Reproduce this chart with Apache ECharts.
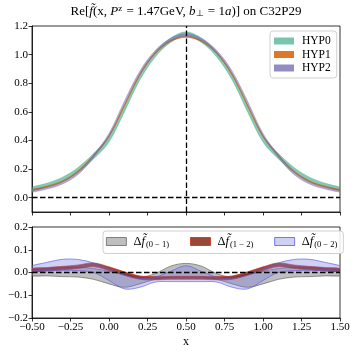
<!DOCTYPE html>
<html><head><meta charset="utf-8">
<script src="https://cdn.jsdelivr.net/npm/echarts@6/dist/echarts.min.js"></script>
<style>html,body{margin:0;padding:0;background:#fff}#c{width:357px;height:357px}</style>
</head><body><div id="c"></div>
<script>
const xs = [-0.5,-0.4,-0.3,-0.2,-0.1,0.0,0.1,0.2,0.3,0.4,0.5,0.6,0.7,0.8,0.9,1.0,1.1,1.2,1.3,1.4,1.5];
const hyp0Mean = [0.062,0.09,0.13,0.195,0.29,0.41,0.62,0.84,1.0,1.1,1.145,1.1,1.0,0.84,0.62,0.41,0.29,0.195,0.13,0.09,0.062];
const hyp0Err  = [0.012,0.013,0.015,0.018,0.02,0.022,0.022,0.02,0.018,0.016,0.015,0.016,0.018,0.02,0.022,0.022,0.02,0.018,0.015,0.013,0.012];
const hyp1Mean = [0.054,0.078,0.115,0.185,0.295,0.43,0.645,0.86,1.01,1.095,1.125,1.095,1.01,0.86,0.645,0.43,0.295,0.185,0.115,0.078,0.054];
const hyp1Err  = [0.004,0.004,0.004,0.004,0.004,0.004,0.004,0.004,0.004,0.004,0.004,0.004,0.004,0.004,0.004,0.004,0.004,0.004,0.004,0.004,0.004];
const hyp2Mean = [0.046,0.068,0.105,0.172,0.29,0.44,0.665,0.875,1.02,1.105,1.137,1.105,1.02,0.875,0.665,0.44,0.29,0.172,0.105,0.068,0.046];
const hyp2Err  = [0.008,0.008,0.009,0.01,0.01,0.011,0.011,0.011,0.01,0.01,0.01,0.01,0.01,0.011,0.011,0.011,0.01,0.01,0.009,0.008,0.008];

const d01Lo = [-0.015,-0.015,-0.018,-0.02,-0.03,-0.05,-0.065,-0.05,-0.03,-0.02,-0.02,-0.02,-0.03,-0.05,-0.065,-0.05,-0.03,-0.02,-0.018,-0.015,-0.015];
const d01Hi = [0.012,0.018,0.022,0.022,0.018,0.005,-0.008,-0.02,-0.005,0.028,0.04,0.028,-0.005,-0.02,-0.008,0.005,0.018,0.022,0.022,0.018,0.012];
const d12Lo = [0.003,0.007,0.012,0.018,0.025,0.008,-0.012,-0.03,-0.032,-0.03,-0.03,-0.03,-0.032,-0.03,-0.012,0.008,0.025,0.018,0.012,0.007,0.003];
const d12Hi = [0.018,0.022,0.027,0.033,0.042,0.025,0.003,-0.015,-0.018,-0.017,-0.017,-0.017,-0.018,-0.015,0.003,0.025,0.042,0.033,0.027,0.022,0.018];
const d02Lo = [0.005,0.008,0.01,0.008,0.0,-0.035,-0.072,-0.065,-0.042,-0.04,-0.04,-0.04,-0.042,-0.065,-0.072,-0.035,0.0,0.008,0.01,0.008,0.005];
const d02Hi = [0.03,0.045,0.058,0.057,0.042,0.015,-0.012,-0.025,-0.02,0.005,0.03,0.005,-0.02,-0.025,-0.012,0.015,0.042,0.057,0.058,0.045,0.03];

const xTicksInterval = 0.25;
const topYTicks = [0.0,0.2,0.4,0.6,0.8,1.0,1.2];
const bottomYTicks = [-0.2,-0.1,0.0,0.1,0.2];

const FONT = 'Liberation Serif';
const minus = s => s.replace('-', '\u2212');
const SM = 0.35;

function band(name, lo, hi, gi, fill, edge, ew, z) {
  return {
    name, type: 'custom', xAxisIndex: gi, yAxisIndex: gi, z, silent: true, clip: true,
    itemStyle: { color: fill },
    data: [[xs[0], lo[0]]],
    renderItem: function (params, api) {
      const loPts = xs.map((x, i) => api.coord([x, lo[i]]));
      const hiPts = xs.map((x, i) => api.coord([x, hi[i]]));
      const poly = loPts.concat(hiPts.slice().reverse());
      const cs = params.coordSys;
      return {
        type: 'group',
        clipPath: { type: 'rect', shape: { x: cs.x, y: cs.y, width: cs.width, height: cs.height } },
        children: [
          { type: 'polygon', shape: { points: poly, smooth: SM }, style: { fill: fill, stroke: null } },
          { type: 'polyline', shape: { points: loPts, smooth: SM }, style: { fill: null, stroke: edge, lineWidth: ew } },
          { type: 'polyline', shape: { points: hiPts, smooth: SM }, style: { fill: null, stroke: edge, lineWidth: ew } }
        ]
      };
    }
  };
}
const sub = (m, e) => m.map((v, i) => +(v - e[i]).toFixed(5));
const add = (m, e) => m.map((v, i) => +(v + e[i]).toFixed(5));

const dash = { color: '#000', width: 1.3, type: [5.5, 2.5] };

const series = [
  band('HYP0', sub(hyp0Mean, hyp0Err), add(hyp0Mean, hyp0Err), 0, 'rgba(27,158,119,0.55)', 'rgba(27,158,119,0.35)', 0.6, 2),
  band('HYP1', sub(hyp1Mean, hyp1Err), add(hyp1Mean, hyp1Err), 0, 'rgba(217,95,2,0.85)', 'rgba(217,95,2,0.9)', 0.6, 3),
  band('HYP2', sub(hyp2Mean, hyp2Err), add(hyp2Mean, hyp2Err), 0, 'rgba(117,112,179,0.6)', 'rgba(117,112,179,0.4)', 0.6, 4),
  band('d01', d01Lo, d01Hi, 1, 'rgba(128,128,128,0.5)', 'rgba(70,70,70,0.8)', 0.7, 2),
  band('d12', d12Lo, d12Hi, 1, 'rgba(128,25,5,0.8)', 'rgba(210,40,20,0.9)', 0.7, 3),
  band('d02', d02Lo, d02Hi, 1, 'rgba(120,120,225,0.35)', 'rgba(90,90,230,0.9)', 0.7, 4),
  { name: 'refTop', type: 'line', xAxisIndex: 0, yAxisIndex: 0, data: [[0.5, 0]], symbol: 'none',
    lineStyle: { opacity: 0 }, z: 10, silent: true,
    markLine: { silent: true, symbol: 'none', label: { show: false }, lineStyle: dash,
      data: [{ yAxis: 0 }, { xAxis: 0.5 }] } },
  { name: 'refBot', type: 'line', xAxisIndex: 1, yAxisIndex: 1, data: [[0.5, 0]], symbol: 'none',
    lineStyle: { opacity: 0 }, z: 10, silent: true,
    markLine: { silent: true, symbol: 'none', label: { show: false }, lineStyle: dash,
      data: [{ yAxis: 0 }] } }
];

const deltaLabels = { d01: '(0 \u2212 1)', d12: '(1 \u2212 2)', d02: '(0 \u2212 2)' };

const xAxisBase = (gi, showLabel) => ({
  type: 'value', gridIndex: gi, min: -0.5, max: 1.5, interval: xTicksInterval,
  axisLine: { show: true, onZero: false, lineStyle: { color: '#000', width: 0.8 } },
  axisTick: { show: true, inside: false, length: 3.5, lineStyle: { color: '#000', width: 0.8 } },
  axisLabel: { show: showLabel, color: '#000', fontFamily: FONT, fontSize: 11, margin: 4,
    formatter: v => minus(v.toFixed(2)) },
  splitLine: { show: false }
});

const option = {
  animation: false,
  backgroundColor: '#fff',
  title: {
    left: 186, top: 4, textAlign: 'center', padding: 0,
    text: '{n|Re[}{i|f\u0303}{n|(x, }{i|P}{sup|z}{n| = 1.47GeV, }{i|b}{sub|\u22A5}{n| = 1}{i|a}{n|)] on C32P29}',
    textStyle: { fontWeight: 'normal', rich: {
      n: { fontFamily: FONT, fontSize: 13, fontWeight: 'normal', color: '#000' },
      i: { fontFamily: FONT, fontSize: 13, fontWeight: 'normal', fontStyle: 'italic', color: '#000' },
      sup: { fontFamily: FONT, fontSize: 9, fontWeight: 'normal', color: '#000', padding: [0, 1, 6, 0] },
      sub: { fontFamily: FONT, fontSize: 9, fontWeight: 'normal', color: '#000', padding: [5, 1, 0, 0] }
    } }
  },
  grid: [
    { left: 32, right: 17, top: 26, height: 186, show: true, borderColor: '#000', borderWidth: 0.8, backgroundColor: 'transparent' },
    { left: 32, right: 17, top: 227, height: 91, show: true, borderColor: '#000', borderWidth: 0.8, backgroundColor: 'transparent' }
  ],
  xAxis: [
    xAxisBase(0, false),
    Object.assign(xAxisBase(1, true), { name: 'x', nameLocation: 'middle', nameGap: 18,
      nameTextStyle: { fontFamily: FONT, fontSize: 12, color: '#000' } })
  ],
  yAxis: [
    { type: 'value', gridIndex: 0, min: -0.1, max: 1.2,
      axisLine: { show: true, onZero: false, lineStyle: { color: '#000', width: 0.8 } },
      axisTick: { show: true, length: 3.5, customValues: topYTicks, lineStyle: { color: '#000', width: 0.8 } },
      axisLabel: { color: '#000', fontFamily: FONT, fontSize: 11, margin: 4, customValues: topYTicks,
        formatter: v => minus(v.toFixed(1)) },
      splitLine: { show: false } },
    { type: 'value', gridIndex: 1, min: -0.2, max: 0.2, interval: 0.1,
      axisLine: { show: true, onZero: false, lineStyle: { color: '#000', width: 0.8 } },
      axisTick: { show: true, length: 3.5, customValues: bottomYTicks, lineStyle: { color: '#000', width: 0.8 } },
      axisLabel: { color: '#000', fontFamily: FONT, fontSize: 11, margin: 4, customValues: bottomYTicks,
        formatter: v => minus(v.toFixed(1)) },
      splitLine: { show: false } }
  ],
  legend: [
    { orient: 'vertical', left: 270, top: 31, padding: [4, 6, 4, 4], itemGap: 1.5,
      itemWidth: 20, itemHeight: 7,
      backgroundColor: 'rgba(255,255,255,0.85)', borderColor: '#d0d0d0', borderWidth: 1, borderRadius: 3,
      textStyle: { fontFamily: FONT, fontSize: 11.5, color: '#000', padding: [0, 0, 0, 3] },
      selectedMode: false, icon: 'rect',
      data: [
        { name: 'HYP0', itemStyle: { color: 'rgba(27,158,119,0.6)' } },
        { name: 'HYP1', itemStyle: { color: 'rgba(217,95,2,0.85)' } },
        { name: 'HYP2', itemStyle: { color: 'rgba(117,112,179,0.8)' } }
      ] },
    { orient: 'horizontal', left: 103, top: 231, width: 237, padding: [4, 6, 4, 3], itemGap: 21,
      itemWidth: 20, itemHeight: 8,
      backgroundColor: 'rgba(255,255,255,0.85)', borderColor: '#d0d0d0', borderWidth: 1, borderRadius: 3,
      selectedMode: false, icon: 'rect',
      formatter: name => '{d|\u0394}{f|f\u0303}{s|' + deltaLabels[name] + '}',
      textStyle: { fontFamily: FONT, fontSize: 11, color: '#000', padding: [0, 0, 0, 2], rich: {
        d: { fontFamily: FONT, fontSize: 12.5, color: '#000' },
        f: { fontFamily: FONT, fontSize: 12.5, fontStyle: 'italic', color: '#000' },
        s: { fontFamily: FONT, fontSize: 8.5, color: '#000', padding: [7, 0, 0, 1] }
      } },
      data: [
        { name: 'd01', itemStyle: { color: 'rgba(128,128,128,0.5)', borderColor: '#666', borderWidth: 0.8 } },
        { name: 'd12', itemStyle: { color: 'rgba(128,25,5,0.8)', borderColor: '#d02814', borderWidth: 0.8 } },
        { name: 'd02', itemStyle: { color: 'rgba(120,120,225,0.35)', borderColor: '#5a5ae6', borderWidth: 0.8 } }
      ] }
  ],
  series
};
const chart = echarts.init(document.getElementById('c'), null, { renderer: 'canvas' });
chart.setOption(option);
</script></body></html>
